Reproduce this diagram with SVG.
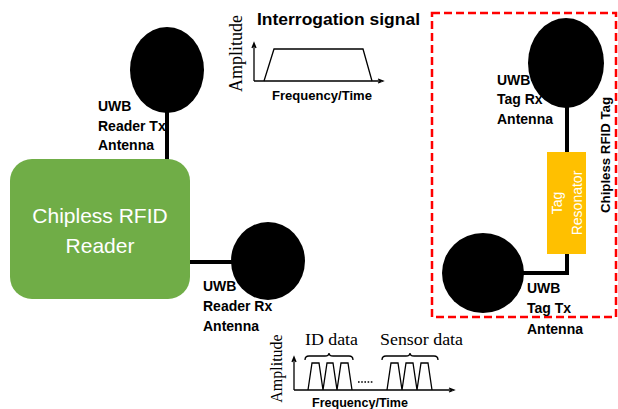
<svg xmlns="http://www.w3.org/2000/svg" width="618" height="409" viewBox="0 0 618 409">
<style>
.lbl{font-family:"Liberation Sans",Arial,sans-serif;font-weight:bold;font-size:14px;fill:#000}
.ant{fill:#000}
.wire{stroke:#000;stroke-width:4;fill:none}
.ax{stroke:#000;stroke-width:1.3;fill:none;stroke-linejoin:miter}
.serif{font-family:"Liberation Serif","Times New Roman",serif;fill:#000}
.cap{font-family:"Liberation Sans",Arial,sans-serif;font-weight:bold;fill:#000}
.wt{font-family:"Liberation Sans",Arial,sans-serif;fill:#fff}
</style>
<rect width="618" height="409" fill="#fff"/>

<g id="connectors">
  <line class="wire" x1="167" y1="110" x2="167" y2="161"/>
  <line class="wire" x1="188" y1="262" x2="236" y2="262"/>
  <line class="wire" x1="567" y1="104" x2="567" y2="153"/>
  <polyline class="wire" points="567,253 567,273 520,273"/>
</g>

<g id="reader">
  <rect x="10" y="159" width="180" height="140" rx="22" fill="#70AD47"/>
  <text class="wt" font-size="21" text-anchor="middle" x="100" y="223">Chipless RFID</text>
  <text class="wt" font-size="21" text-anchor="middle" x="100" y="253">Reader</text>
</g>

<g id="reader-tx-antenna">
  <ellipse class="ant" cx="167" cy="70" rx="37" ry="43"/>
  <text class="lbl" x="98" y="111">UWB</text>
  <text class="lbl" x="98" y="130.5">Reader Tx</text>
  <text class="lbl" x="98" y="150">Antenna</text>
</g>

<g id="reader-rx-antenna">
  <ellipse class="ant" cx="268" cy="261" rx="37" ry="39"/>
  <text class="lbl" x="203" y="291">UWB</text>
  <text class="lbl" x="203" y="311">Reader Rx</text>
  <text class="lbl" x="203" y="331">Antenna</text>
</g>

<g id="interrogation-signal">
  <text class="cap" font-size="16.5" x="257" y="25" textLength="163" lengthAdjust="spacingAndGlyphs">Interrogation signal</text>
  <text class="serif" font-size="18" text-anchor="middle" transform="translate(242,53.5) rotate(-90)">Amplitude</text>
  <path class="ax" d="M254,81 L254,45 M252,48 L254,43 L256,48 M254,81 L381,81 M378,79 L383,81 L378,83"/>
  <path class="ax" d="M264,81 L274,49 L363,49 L372,81"/>
  <text class="cap" font-size="13.5" x="272" y="100" textLength="100" lengthAdjust="spacingAndGlyphs">Frequency/Time</text>
</g>

<g id="tag">
  <rect x="432" y="13" width="184" height="304" fill="none" stroke="#FF0000" stroke-width="2.5" stroke-dasharray="8 4"/>
  <text class="cap" font-size="13.5" text-anchor="middle" transform="translate(610,155) rotate(-90)" textLength="116" lengthAdjust="spacingAndGlyphs">Chipless RFID Tag</text>
</g>

<g id="tag-rx-antenna">
  <ellipse class="ant" cx="566" cy="63" rx="38" ry="45"/>
  <text class="lbl" x="497" y="85">UWB</text>
  <text class="lbl" x="497" y="104">Tag Rx</text>
  <text class="lbl" x="497" y="123.5">Antenna</text>
</g>

<g id="tag-resonator">
  <rect x="547" y="152" width="39" height="102" fill="#FFC000"/>
  <text class="wt" font-size="14" text-anchor="middle" transform="translate(562,203) rotate(-90)">Tag</text>
  <text class="wt" font-size="14" text-anchor="middle" transform="translate(582,203) rotate(-90)">Resonator</text>
</g>

<g id="tag-tx-antenna">
  <ellipse class="ant" cx="483" cy="273" rx="41" ry="40"/>
  <text class="lbl" x="527" y="293">UWB</text>
  <text class="lbl" x="527" y="312.5">Tag Tx</text>
  <text class="lbl" x="527" y="334">Antenna</text>
</g>

<g id="response-signal">
  <text class="serif" font-size="17.5" x="305" y="345" textLength="53" lengthAdjust="spacingAndGlyphs">ID data</text>
  <text class="serif" font-size="17.5" x="380" y="345" textLength="83" lengthAdjust="spacingAndGlyphs">Sensor data</text>
  <text class="serif" font-size="16" text-anchor="middle" transform="translate(282,368.5) rotate(-90)">Amplitude</text>
  <path class="ax" d="M294,390 L294,359 M292,362 L294,357 L296,362 M294,390 L452,390 M449,388 L454,390 L449,392"/>
  <path class="ax" d="M305,360 Q305,356 309,356 L325,356 Q329,356 329,353 Q329,356 333,356 L349,356 Q353,356 353,360"/>
  <path class="ax" d="M382,360 Q382,356 386,356 L406,356 Q410,356 410,353 Q410,356 414,356 L434,356 Q438,356 438,360"/>
  <path class="ax" d="M308,390 L312,363 L319,363 L323,390 L327,363 L333,363 L337,390 L341,363 L348,363 L352,390"/>
  <path class="ax" d="M387,390 L391,363 L398,363 L402,390 L406,363 L413,363 L417,390 L421,363 L428,363 L432,390"/>
  <line x1="358" y1="382" x2="374" y2="382" stroke="#000" stroke-width="1.5" stroke-dasharray="1.6 1.6"/>
  <text class="cap" font-size="13.5" x="312" y="407" textLength="96" lengthAdjust="spacingAndGlyphs">Frequency/Time</text>
</g>
</svg>
